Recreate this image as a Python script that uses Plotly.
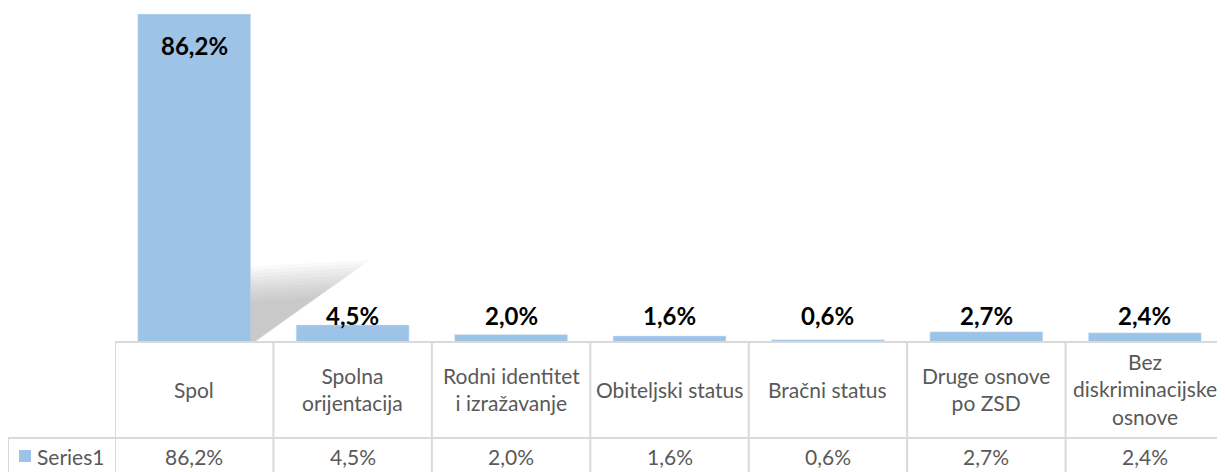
import plotly.graph_objects as go

categories = ["Spol", "Spolna<br>orijentacija", "Rodni identitet<br>i izražavanje",
              "Obiteljski status", "Bračni status", "Druge osnove<br>po ZSD",
              "Bez<br>diskriminacijske<br>osnove"]
values = [86.2, 4.5, 2.0, 1.6, 0.6, 2.7, 2.4]
series_name = "Series1"

# the page body has an 8px margin, so the figure is drawn 8px smaller
OFF = 8
SCREEN_W, SCREEN_H = 1225, 472
W, H = SCREEN_W - OFF, SCREEN_H - OFF
PLOT_LEFT, PLOT_RIGHT, PLOT_BOTTOM = 115, 1224, 342   # screen pixels
ML = PLOT_LEFT - OFF
MR = SCREEN_W - PLOT_RIGHT
MT = 0
PH = PLOT_BOTTOM - OFF
MB = H - PH
PW = PLOT_RIGHT - PLOT_LEFT
PX_PER_UNIT = 3.805

BAR_COLOR = "#9DC3E6"
GRID = "#D9D9D9"
TXT = "#595959"
FONT = "Lato"
BARGAP = 0.287
TABLE_FONT = 21


def px_y(ypix):
    return (PLOT_BOTTOM - ypix) / PH


def px_x(xpix):
    return (xpix - PLOT_LEFT) / PW


def fmt(v):
    return f"{v:.1f}%".replace(".", ",")


fig = go.Figure()

# soft shadow cast by the tallest bar (decorative, derived from bar geometry)
imax = values.index(max(values))
xr = imax + (1 - BARGAP) / 2
hmax = values[imax]
base_x = [xr, xr, xr + 0.74, xr + 0.03]
base_y = [0, hmax * 0.225, hmax * 0.245, 0]
n_layers = 11
for k in range(n_layers):
    s = 1.02 - k * (0.47 / (n_layers - 1))
    xs = [xr + s * (x - xr) for x in base_x]
    ys = [s * y for y in base_y]
    fig.add_trace(go.Scatter(x=xs + [xs[0]], y=ys + [ys[0]], xaxis="x2",
                             fill="toself", mode="none", hoverinfo="skip",
                             showlegend=False, fillcolor="rgba(140,140,140,0.055)"))

fig.add_trace(go.Bar(x=categories, y=values, marker_color=BAR_COLOR,
                     name=series_name, showlegend=False, hoverinfo="skip"))

annotations = []
for c, v in zip(categories, values):
    if v > 50:
        annotations.append(dict(x=c, y=v, xref="x", yref="y", text=f"<b>{fmt(v)}</b>",
                                showarrow=False, yanchor="middle", yshift=-31,
                                font=dict(family=FONT, size=24, color="#000000")))
    else:
        annotations.append(dict(x=c, y=px_y(315), xref="x", yref="paper", text=f"<b>{fmt(v)}</b>",
                                showarrow=False, yanchor="middle",
                                font=dict(family=FONT, size=24, color="#000000")))
    annotations.append(dict(x=c, y=px_y(389), xref="x", yref="paper", text=c,
                            showarrow=False, yanchor="middle",
                            font=dict(family=FONT, size=TABLE_FONT, color=TXT)))
    annotations.append(dict(x=c, y=px_y(457), xref="x", yref="paper", text=fmt(v),
                            showarrow=False, yanchor="middle",
                            font=dict(family=FONT, size=TABLE_FONT, color=TXT)))
annotations.append(dict(x=px_x(35), y=px_y(457), xref="paper", yref="paper", text=series_name,
                        showarrow=False, xanchor="left", yanchor="middle",
                        font=dict(family=FONT, size=TABLE_FONT, color=TXT)))

shapes = []
n = len(categories)
for i in range(n + 1):
    shapes.append(dict(type="line", xref="x", yref="paper", x0=i - 0.5, x1=i - 0.5,
                       y0=px_y(342), y1=px_y(490), line=dict(color=GRID, width=2)))
shapes.append(dict(type="line", xref="paper", yref="paper", x0=px_x(8), x1=px_x(8),
                   y0=px_y(438), y1=px_y(490), line=dict(color=GRID, width=2)))
shapes.append(dict(type="line", xref="paper", yref="paper", x0=0, x1=1,
                   y0=px_y(342), y1=px_y(342), line=dict(color=GRID, width=2)))
shapes.append(dict(type="line", xref="paper", yref="paper", x0=px_x(8), x1=1,
                   y0=px_y(438), y1=px_y(438), line=dict(color=GRID, width=2)))
shapes.append(dict(type="rect", xref="paper", yref="paper", x0=px_x(19), x1=px_x(31),
                   y0=px_y(462), y1=px_y(450), fillcolor=BAR_COLOR, line=dict(width=0)))

fig.update_layout(
    width=W, height=H,
    margin=dict(l=ML, r=MR, t=MT, b=MB),
    paper_bgcolor="white", plot_bgcolor="white",
    bargap=BARGAP,
    xaxis=dict(showticklabels=False, showgrid=False, zeroline=False, showline=False,
               ticks="", range=[-0.5, n - 0.5]),
    xaxis2=dict(overlaying="x", range=[-0.5, n - 0.5], visible=False),
    yaxis=dict(range=[0, PH / PX_PER_UNIT], visible=False),
    annotations=annotations, shapes=shapes,
    showlegend=False,
)

fig.write_html("out.html")
